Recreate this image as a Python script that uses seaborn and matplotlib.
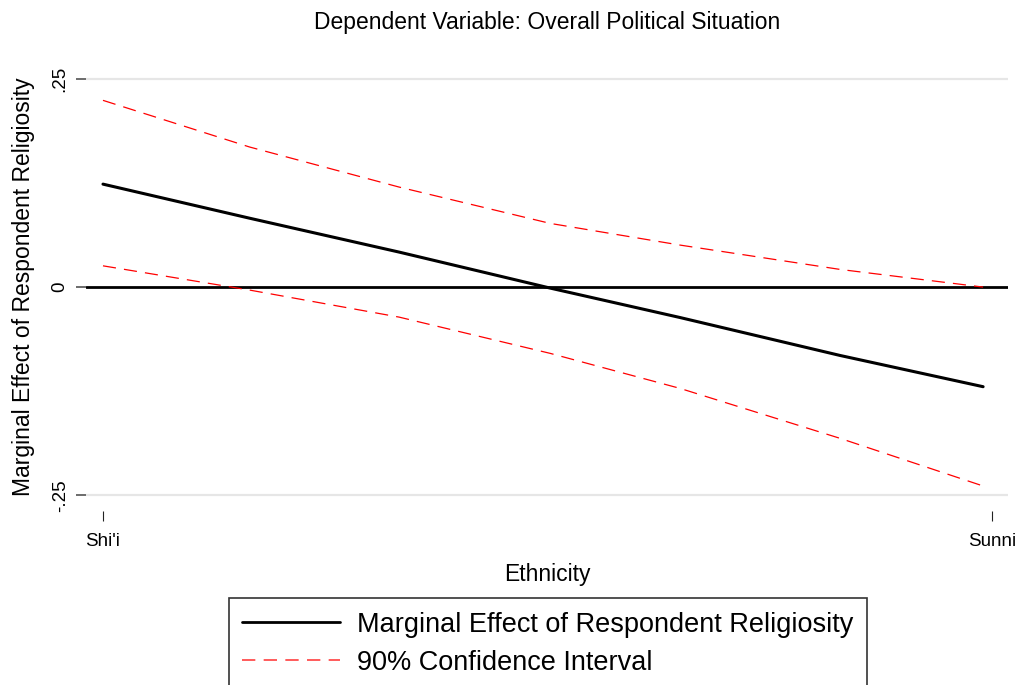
import matplotlib
matplotlib.use("Agg")
import matplotlib.pyplot as plt
import seaborn as sns
import pandas as pd
from matplotlib.lines import Line2D

# ---- data ----
ethnicity = [0.0, 0.165, 0.333, 0.503, 0.649, 0.829, 0.99]
marginal_effect = [0.1235, 0.0826, 0.042, -0.0012, -0.0365, -0.082, -0.1195]
ci_upper = [0.224, 0.168, 0.120, 0.0764, 0.0504, 0.0212, 0.0]
ci_lower = [0.0255, -0.0036, -0.036, -0.0795, -0.1215, -0.1814, -0.2386]
xtick_pos = [0, 1]
xtick_labels = ["Shi'i", "Sunni"]
ytick_pos = [-0.25, 0, 0.25]
ytick_labels = ["-.25", "0", ".25"]

title = "Dependent Variable: Overall Political Situation"
xlabel = "Ethnicity"
ylabel = "Marginal Effect of Respondent Religiosity"
legend_labels = ["Marginal Effect of Respondent Religiosity", "90% Confidence Interval"]

sns.set_style("white")
plt.rcParams['font.family'] = ['Liberation Sans', 'DejaVu Sans']
plt.rcParams['text.color'] = 'black'
plt.rcParams['axes.labelcolor'] = 'black'
plt.rcParams['xtick.labelcolor'] = 'black'
plt.rcParams['ytick.labelcolor'] = 'black'

df = pd.DataFrame({"x": ethnicity, "me": marginal_effect, "hi": ci_upper, "lo": ci_lower})

fig = plt.figure(figsize=(10.2, 6.85), dpi=100)
W, H = 1020, 685
ax = fig.add_axes([86 / W, 1 - 511 / H, (1008 - 86) / W, (511 - 62) / H])

# gridlines
for yv in ytick_pos:
    if yv != 0:
        ax.axhline(yv, color="#e6e6e6", lw=1.6, zorder=0)
ax.axhline(0, color="black", lw=2.0, zorder=1)

sns.lineplot(data=df, x="x", y="hi", ax=ax, color="red", lw=0.9, zorder=3)
ax.lines[-1].set_dashes((10.5, 6.5))
sns.lineplot(data=df, x="x", y="lo", ax=ax, color="red", lw=0.9, zorder=3)
ax.lines[-1].set_dashes((10.5, 6.5))
sns.lineplot(data=df, x="x", y="me", ax=ax, color="black", lw=2.2, zorder=4)

ax.set_xlim(-0.0191, 1.018)
ax.set_ylim(-0.2686, 0.27)

for s in ax.spines.values():
    s.set_visible(False)

ax.set_xticks(xtick_pos)
ax.set_xticklabels(xtick_labels, fontsize=13.5)
ax.set_yticks(ytick_pos)
ax.set_yticklabels(ytick_labels, fontsize=13.5, rotation=90, va="center")
ax.tick_params(axis="y", length=7.5, width=1.1, color="#444444", pad=5, left=True)
ax.tick_params(axis="x", length=7.5, width=0.8, color="#222222", pad=8, bottom=True)

ax.set_xlabel(xlabel, fontsize=16.5, labelpad=10)
ax.set_ylabel(ylabel, fontsize=16.5, labelpad=12)
ax.set_title(title, fontsize=16.5, pad=24)

handles = [Line2D([], [], color="black", lw=2.0),
           Line2D([], [], color="#ff4040", lw=1.2, dashes=(8, 5))]
leg = fig.legend(handles, legend_labels, loc="upper center",
                 bbox_to_anchor=(548 / W, 1 - 598 / H), fontsize=19.5,
                 frameon=True, fancybox=False, shadow=False, framealpha=1,
                 edgecolor="#333333", handlelength=3.6, handletextpad=0.66,
                 labelspacing=0.45, borderpad=0.5, borderaxespad=0)
leg.get_frame().set_linewidth(1.2)

fig.savefig("out.png", dpi=100)
